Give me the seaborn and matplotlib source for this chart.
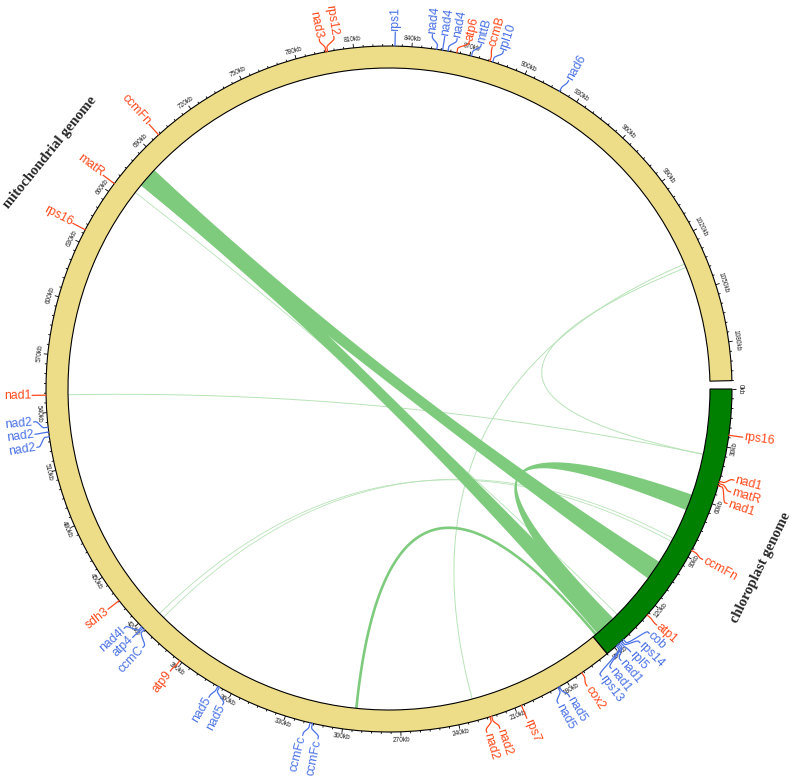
import numpy as np
import pandas as pd
import matplotlib
matplotlib.use("Agg")
import matplotlib.pyplot as plt
import seaborn as sns
from matplotlib.patches import Wedge, Polygon
from matplotlib.collections import LineCollection

# ---- data -------------------------------------------------------------------
# genome segments on one shared kb axis
seg_names = ["chloroplast genome", "mitochondrial genome"]
seg_start = [0, 155]
seg_end = [155, 1100]
seg_colors = ["#008000", "#eedd88"]

# gene labels: gene position (kb), where its label sits (kb), colour group
gene_names = ["rps16", "nad1", "matR", "nad1", "ccmFn", "atp1",
              "cob", "rps14", "rpl5", "nad1", "nad1", "rps13",
              "cox2", "nad5", "nad5", "rps7", "nad2", "nad2",
              "ccmFc", "ccmFc", "nad5", "nad5", "atp9",
              "ccmC", "atp4", "nad4l", "sdh3",
              "nad2", "nad2", "nad2", "nad1", "rps16", "matR", "ccmFn",
              "nad3", "rps12", "rps1", "nad4", "nad4", "nad4",
              "atp6", "mttB", "ccmB", "rpl10", "nad6"]
gene_kb = [23.8, 47.9, 49.1, 50.3, 86.2, 126.4,
           143.9, 145.1, 146.0, 147.0, 147.9, 148.8,
           171.2, 184.7, 185.6, 206.4, 222.7, 223.6,
           315.6, 316.9, 366.9, 367.8, 391.4,
           415.6, 416.6, 417.5, 435.3,
           527.6, 530.0, 532.5, 549.0, 637.0, 665.0, 698.8,
           795.7, 796.6, 831.3, 852.8, 855.8, 858.6,
           863.2, 870.9, 880.7, 882.2, 919.6]
label_kb = [23.8, 45.4, 51.4, 57.4, 87.5, 127.0,
            132.5, 139.0, 145.4, 151.8, 158.0, 164.2,
            172.7, 182.8, 189.3, 206.4, 220.6, 227.3,
            311.3, 319.0, 361.3, 369.0, 392.0,
            409.8, 416.9, 423.0, 435.3,
            523.3, 529.8, 535.9, 549.0, 637.0, 665.0, 698.8,
            793.6, 800.9, 831.3, 849.7, 855.8, 862.0,
            868.1, 874.2, 879.8, 885.6, 920.9]
gene_group = ["r", "r", "r", "r", "r", "r",
              "b", "b", "b", "b", "b", "b",
              "r", "b", "b", "r", "r", "r",
              "b", "b", "b", "b", "r",
              "b", "b", "b", "r",
              "b", "b", "b", "r", "r", "r", "r",
              "r", "r", "b", "b", "b", "b",
              "r", "b", "r", "b", "b"]
group_colors = {"r": "#ff4a1c", "b": "#4a72e6"}

# ribbon links: region a (kb) <-> region b (kb)
rib_a0 = [673, 673, 59]
rib_a1 = [684, 684, 68]
rib_b0 = [100, 141, 140]
rib_b1 = [111, 152, 148]

# thin links: point a <-> point b
thin_a = [294, 549, 36, 230, 413, 416, 668]
thin_b = [153, 36, 1036, 1034, 85, 87, 137]
thin_lw = [1.9, 0.7, 0.7, 0.7, 0.6, 0.6, 0.6]
thin_col = ["#7ecb7e", "#b8e3b8", "#b8e3b8", "#b8e3b8", "#b8e3b8", "#b8e3b8", "#b8e3b8"]

# ---- geometry ---------------------------------------------------------------
CX, CY = 389, 389
R_IN, R_OUT = 321, 343
DEG_PER_KB = 0.326


def ang(kb):
    return np.deg2rad(np.asarray(kb, dtype=float) * DEG_PER_KB)


def polar(kb, r):
    a = ang(kb)
    return CX + r * np.cos(a), CY + r * np.sin(a)


def arc(k0, k1, r, n=30):
    ks = np.linspace(k0, k1, n)
    x, y = polar(ks, r)
    return np.column_stack([x, y])


def bez(k0, k1, n=160):
    # quadratic bezier between two ring points, pulled through the centre
    p0 = np.array(polar(k0, R_IN))
    p2 = np.array(polar(k1, R_IN))
    c = np.array([CX, CY])
    t = np.linspace(0, 1, n)[:, None]
    return (1 - t) ** 2 * p0 + 2 * (1 - t) * t * c + t ** 2 * p2


sns.set_theme(style="white")
plt.rcParams["font.family"] = ["Liberation Sans", "DejaVu Sans"]

fig = plt.figure(figsize=(7.94, 7.76), dpi=100)
ax = fig.add_axes([0, 0, 1, 1])

# ---- links ------------------------------------------------------------------
frames = []
for i, (a, b) in enumerate(zip(thin_a, thin_b)):
    xy = bez(a, b)
    frames.append(pd.DataFrame({"x": xy[:, 0], "y": xy[:, 1], "link": i}))
links = pd.concat(frames, ignore_index=True)
for i in range(len(thin_a)):
    sns.lineplot(data=links[links["link"] == i], x="x", y="y", sort=False,
                 estimator=None, color=thin_col[i], lw=thin_lw[i], ax=ax,
                 zorder=1 if i else 2)

for a0, a1, b0, b1 in zip(rib_a0, rib_a1, rib_b0, rib_b1):
    poly = np.vstack([arc(a0, a1, R_IN), bez(a1, b0), arc(b0, b1, R_IN), bez(b1, a0)])
    ax.add_patch(Polygon(poly, closed=True, facecolor="#7ecb7e", edgecolor="none", zorder=1.5))

# ---- ideogram ---------------------------------------------------------------
for s, e, col in zip(seg_start, seg_end, seg_colors):
    ax.add_patch(Wedge((CX, CY), R_OUT, s * DEG_PER_KB, e * DEG_PER_KB,
                       width=R_OUT - R_IN, facecolor=col, edgecolor="black",
                       lw=0.8, zorder=3))

# ticks every 5kb, labelled every 30kb
segs = []
for kb in range(0, 1101, 5):
    ln = 4 if kb % 30 == 0 else 2
    x0, y0 = polar(kb, R_OUT)
    x1, y1 = polar(kb, R_OUT + ln)
    segs.append([(x0, y0), (x1, y1)])
    if kb % 30 == 0:
        th = kb * DEG_PER_KB
        rot = 90 - th if 0 < th < 180 else -th - 90
        tx, ty = polar(kb, R_OUT + 8)
        ax.text(tx, ty, f"{kb}kb", fontsize=4.7, rotation=rot, ha="center",
                va="center", rotation_mode="anchor", color="#222222", zorder=4)
ax.add_collection(LineCollection(segs, colors="black", linewidths=0.6, zorder=4))

# ---- gene labels ------------------------------------------------------------
for name, g, l, grp in zip(gene_names, gene_kb, label_kb, gene_group):
    col = group_colors[grp]
    u = np.linspace(0, 1, 25)
    s = u * u * (3 - 2 * u)
    ks = np.concatenate([[g, g], g + (l - g) * s, [l]])
    rs = np.concatenate([[R_OUT, R_OUT + 4], R_OUT + 4 + 8 * u, [R_OUT + 14]])
    a = ang(ks)
    ax.plot(CX + rs * np.cos(a), CY + rs * np.sin(a), color=col, lw=0.9, zorder=4)
    th = l * DEG_PER_KB
    tx, ty = polar(l, R_OUT + 15)
    if np.cos(np.deg2rad(th)) >= 0:
        rot, ha = -th, "left"
    else:
        rot, ha = 180 - th, "right"
    ax.text(tx, ty, name, color=col, fontsize=8.8, rotation=rot, ha=ha, va="center",
            rotation_mode="anchor", zorder=5)

# genome titles
title_font = dict(family=["Liberation Serif", "DejaVu Serif"], fontweight="bold",
                  fontsize=10.5, ha="center", va="center", rotation_mode="anchor")
ax.text(50, 152, seg_names[1], rotation=51, **title_font)
ax.text(761, 568, seg_names[0], rotation=64, **title_font)

ax.set_xlim(0, 794)
ax.set_ylim(776, 0)
ax.set_aspect("equal")
ax.axis("off")
fig.savefig("out.png", dpi=100)
